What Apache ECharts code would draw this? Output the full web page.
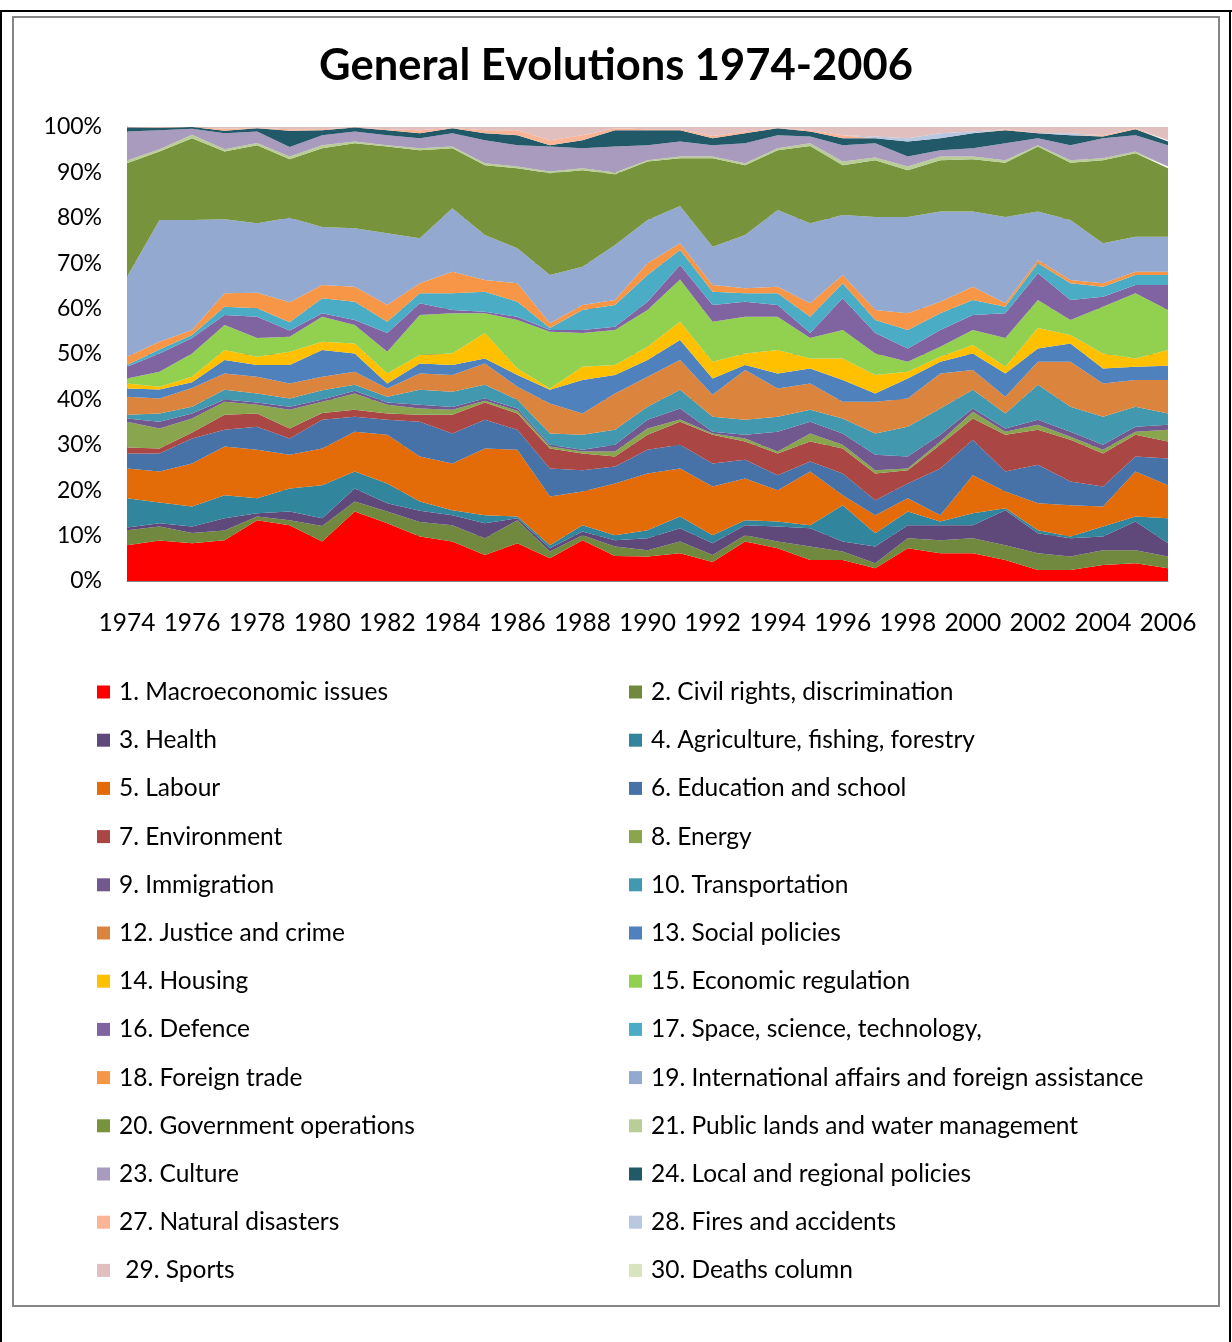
<!DOCTYPE html>
<html>
<head>
<meta charset="UTF-8">
<title>General Evolutions 1974-2006</title>
<script src="https://cdn.jsdelivr.net/npm/echarts@6/dist/echarts.min.js"></script>
<style>
  html, body { margin: 0; padding: 0; background: #fff; }
  #chart { width: 1232px; height: 1342px; }
</style>
</head>
<body>
<div id="chart"></div>
<script>
// years on the x axis
var years = ['1974','1975','1976','1977','1978','1979','1980','1981','1982','1983','1984','1985','1986','1987','1988','1989','1990',
             '1991','1992','1993','1994','1995','1996','1997','1998','1999','2000','2001','2002','2003','2004','2005','2006'];

var yTicks = [0, 10, 20, 30, 40, 50, 60, 70, 80, 90, 100];

// share of each topic per year (%), bottom of the stack first
var macroeconomic = [7.9,8.9,8.3,9.0,13.4,12.3,8.7,15.3,12.7,9.8,8.7,5.7,8.3,5.0,9.0,5.5,5.4,6.1,4.2,8.7,7.2,4.6,4.6,2.8,7.2,6.1,6.1,4.6,2.4,2.4,3.5,3.9,2.8];
var civilRights   = [3.3,3.1,2.3,2.1,0.8,1.1,3.4,2.2,2.6,3.2,3.6,3.7,5.1,1.5,1.1,2.1,1.4,2.6,1.5,1.4,1.5,3.0,1.9,1.1,2.2,2.9,3.3,3.3,3.7,3.0,3.3,2.9,2.6];
var health        = [0.6,0.7,1.4,2.7,0.7,1.9,1.7,2.9,1.8,2.5,2.2,3.3,0.4,0.7,0.8,1.4,2.6,2.9,2.6,2.2,3.3,4.0,2.2,3.7,2.9,3.3,2.9,7.7,4.4,4.0,3.0,6.3,2.9];
var agriculture   = [6.4,4.6,4.4,5.1,3.3,5.1,7.3,3.7,4.4,2.0,1.1,1.8,0.4,0.7,1.4,1.1,1.8,2.6,1.8,1.1,1.1,0.7,8.0,2.9,3.0,0.8,2.6,0.4,0.7,0.4,2.2,1.1,5.5];
var labour        = [6.6,6.8,9.5,10.7,10.7,7.4,8.1,8.8,10.7,9.9,10.3,14.7,14.7,10.7,7.4,11.4,12.5,10.6,10.7,9.2,6.9,11.8,2.2,4.0,2.9,1.4,8.4,3.7,5.9,6.9,4.4,9.9,7.3];
var education     = [3.3,4.0,5.5,3.7,5.1,3.6,6.3,3.3,3.3,7.7,6.6,6.3,4.4,6.2,4.7,3.7,5.2,5.2,5.1,4.1,3.3,2.2,4.8,3.3,3.3,10.3,7.8,4.4,8.5,5.2,4.4,3.3,5.9];
var environment   = [1.3,1.1,1.3,3.3,2.9,2.2,1.5,1.5,1.4,1.5,4.1,3.8,3.6,4.4,3.7,2.2,3.3,5.1,6.3,4.0,4.8,4.4,5.5,5.9,2.9,5.2,4.7,8.1,7.7,9.2,7.3,4.8,3.7];
var energy        = [5.7,4.4,3.1,2.9,1.9,4.1,2.5,3.6,1.9,1.4,1.1,0.4,0.6,0.4,0.4,1.1,1.4,0.5,0.3,0.7,0.4,1.8,0.8,0.7,0.4,0.7,1.5,0.7,1.1,0.7,0.8,0.7,2.6];
var immigration   = [0.7,1.5,1.1,0.5,0.5,0.7,0.5,0.6,0.5,0.8,0.6,0.5,0.5,0.4,0.4,1.5,1.9,2.4,0.4,0.8,4.4,2.6,2.5,3.4,2.6,1.5,0.7,0.7,1.1,1.1,1.1,1.1,1.1];
var transport     = [0.8,1.8,1.5,2.1,2.0,1.8,2.0,1.3,1.3,3.3,3.4,3.0,1.9,2.5,3.3,3.3,2.9,4.1,3.3,3.3,3.3,2.6,3.3,4.7,6.6,5.8,4.1,3.3,7.7,5.5,6.2,4.4,2.5];
var justice       = [4.0,3.3,4.1,3.6,3.7,3.3,3.0,2.9,1.8,3.6,3.7,4.7,2.9,6.6,4.7,8.0,6.6,6.6,4.8,11.0,6.2,5.8,3.7,7.0,6.2,7.7,4.4,3.7,5.1,9.9,7.3,5.9,7.4];
var social        = [1.8,2.0,1.3,3.0,2.6,4.1,5.9,4.0,1.1,2.2,2.2,1.1,2.6,3.0,7.4,4.1,3.7,4.4,3.6,1.1,3.3,3.3,4.8,1.8,4.4,2.6,3.6,5.1,2.9,4.0,3.3,2.9,3.1];
var housing       = [1.1,0.6,1.2,2.2,1.8,2.9,1.8,2.2,2.2,1.9,2.5,5.6,1.4,0.3,2.9,2.2,2.9,4.0,3.7,2.5,5.2,2.2,4.7,4.1,1.5,1.1,1.9,1.5,4.5,1.9,3.3,1.8,3.5];
var econRegul     = [1.1,3.3,5.1,5.5,4.1,3.3,5.5,4.1,4.8,8.8,8.9,4.4,10.7,12.5,7.4,7.7,8.1,9.3,8.8,8.1,7.3,4.5,6.3,4.7,2.2,2.2,3.3,6.3,6.2,3.3,10.3,14.4,8.8];
var defence       = [2.6,4.0,3.4,2.2,4.7,1.4,0.8,1.1,4.1,2.6,0.7,0.3,0.7,0.4,0.7,0.7,1.8,3.2,3.7,3.3,2.6,1.1,7.0,4.5,2.9,3.7,3.3,5.5,5.9,4.4,2.2,1.8,5.5];
var science       = [0.4,0.9,0.7,1.8,1.9,1.8,3.3,4.0,2.5,2.2,3.7,4.4,3.3,0.4,4.4,4.8,5.9,3.3,2.9,1.9,2.6,3.6,3.3,2.9,4.1,3.7,3.3,1.4,2.2,3.7,2.2,2.2,2.2];
var foreignTrade  = [1.8,1.7,1.1,3.0,3.4,4.4,2.9,3.3,3.7,2.2,4.7,2.6,4.1,1.1,1.1,1.1,2.6,1.5,1.5,1.1,1.4,3.0,1.8,2.2,3.7,2.5,2.9,0.8,0.7,0.7,0.8,0.7,0.7];
var international = [17.6,26.8,24.2,16.3,15.3,18.6,12.8,12.9,15.8,9.9,14.0,9.9,7.7,10.6,8.4,12.1,9.5,8.2,8.4,11.7,16.9,17.6,13.2,20.5,21.2,19.9,16.6,19.0,10.7,13.2,8.8,7.7,7.7];
var government    = [25.0,15.1,18.0,14.9,17.2,12.9,17.3,18.7,19.1,19.4,13.2,15.4,17.6,22.4,21.3,15.6,12.9,10.5,19.5,15.4,13.2,17.0,11.0,12.5,10.3,11.3,11.5,11.9,14.3,12.6,18.3,18.4,15.1];
var publicLands   = [0.6,0.5,0.8,0.5,0.5,0.6,0.7,0.4,0.3,0.4,0.4,0.4,0.4,0.4,0.4,0.4,0.3,0.4,0.4,0.4,0.4,0.6,0.8,0.6,0.8,0.8,0.6,0.6,0.3,0.6,0.4,0.4,0.4];
var culture       = [6.4,4.2,1.3,3.5,2.5,2.1,2.2,2.2,2.2,2.2,2.9,5.1,4.7,5.5,4.4,5.7,3.3,3.3,2.5,4.4,2.9,1.5,3.6,3.1,2.2,1.4,1.8,3.7,1.5,3.3,4.4,3.6,4.7];
var localRegional = [0.9,0.5,0.4,0.6,0.7,3.6,1.1,0.9,1.1,1.1,1.1,1.5,2.2,0.3,1.8,3.6,3.3,2.5,1.5,2.2,1.5,1.1,1.5,1.1,3.3,2.6,3.3,2.9,1.1,2.2,0.4,1.3,0.8];
var disasters     = [0.0,0.1,0.0,0.4,0.1,0.3,0.2,0.0,0.2,0.7,0.1,0.7,1.1,1.1,1.1,0.4,0.2,0.2,0.5,0.4,0.1,0.3,0.7,0.0,0.0,0.0,0.0,0.2,0.0,0.0,0.3,0.2,0.3];
var fires         = [0.0,0.0,0.0,0.0,0.0,0.0,0.0,0.0,0.0,0.0,0.0,0.0,0.0,0.0,0.0,0.0,0.0,0.0,0.0,0.0,0.0,0.0,0.0,0.4,0.7,1.1,0.4,0.0,0.0,0.4,0.0,0.0,0.0];
var sports        = [0.1,0.1,0.0,0.4,0.2,0.5,0.5,0.1,0.5,0.7,0.2,0.7,0.7,2.9,1.8,0.3,0.5,0.5,2.0,1.0,0.2,0.7,1.8,2.1,2.5,1.4,1.0,0.5,1.4,1.4,1.8,0.3,2.9];
var deaths        = [0.0,0.0,0.0,0.0,0.0,0.0,0.0,0.0,0.0,0.0,0.0,0.0,0.0,0.0,0.0,0.0,0.0,0.0,0.0,0.0,0.0,0.0,0.0,0.0,0.0,0.0,0.0,0.0,0.0,0.0,0.0,0.0,0.0];

var names = ['1. Macroeconomic issues','2. Civil rights, discrimination','3. Health','4. Agriculture, fishing, forestry',
  '5. Labour','6. Education and school','7. Environment','8. Energy','9. Immigration','10. Transportation',
  '12. Justice and crime','13. Social policies','14. Housing','15. Economic regulation','16. Defence',
  '17. Space, science, technology,','18. Foreign trade','19. International affairs and foreign assistance',
  '20. Government operations','21. Public lands and water management','23. Culture','24. Local and regional policies',
  '27. Natural disasters','28. Fires and accidents',' 29. Sports','30. Deaths column'];

var values = [macroeconomic, civilRights, health, agriculture, labour, education, environment, energy, immigration,
  transport, justice, social, housing, econRegul, defence, science, foreignTrade, international, government,
  publicLands, culture, localRegional, disasters, fires, sports, deaths];

var colors = ['#FF0000','#71893F','#5F497A','#31859C','#E36C09','#4672A8','#AA4643','#89A54E','#71588F','#4198AF',
  '#DB843D','#4F81BD','#FFC000','#92D050','#8064A2','#4BACC6','#F79646','#93A9CF','#77933C','#B9CD96',
  '#A99BBD','#215968','#FAB597','#B9C7E0','#E2BFBF','#D7E4BD'];

var font = 'Lato, "Open Sans", sans-serif';

var series = names.map(function (n, i) {
  return {
    name: n,
    type: 'line',
    stack: 'total',
    data: values[i],
    symbol: 'none',
    showSymbol: false,
    lineStyle: { width: 0 },
    areaStyle: { color: colors[i], opacity: 1 },
    itemStyle: { color: colors[i] },
    emphasis: { disabled: true },
    z: 2
  };
});

function legendFor(list, left) {
  return {
    orient: 'vertical',
    left: left,
    top: 679,
    padding: 0,
    icon: 'rect',
    itemWidth: 13,
    itemHeight: 13,
    itemGap: 22.2,
    selectedMode: false,
    data: list,
    textStyle: { fontFamily: font, fontSize: 24.5, color: '#000', lineHeight: 26, padding: [0, 0, 0, 4] }
  };
}

var leftNames = names.filter(function (n, i) { return i % 2 === 0; });
var rightNames = names.filter(function (n, i) { return i % 2 === 1; });

var myChart = echarts.init(document.getElementById('chart'), null, { renderer: 'canvas' });
var option = {
  backgroundColor: '#fff',
  animation: false,
  color: colors,
  title: {
    text: 'General Evolutions 1974-2006',
    left: 'center',
    top: 39,
    textStyle: { fontFamily: font, fontSize: 43.5, fontWeight: 'bold', color: '#000' }
  },
  legend: [legendFor(leftNames, 97), legendFor(rightNames, 629)],
  grid: { left: 127, top: 127, width: 1041, height: 454, containLabel: false },
  xAxis: {
    type: 'category',
    boundaryGap: false,
    data: years,
    axisLine: { lineStyle: { color: '#868686', width: 1 } },
    axisTick: { show: false },
    axisLabel: { interval: 1, margin: 30, fontFamily: font, fontSize: 24.5, color: '#000' },
    splitLine: { show: false }
  },
  yAxis: {
    type: 'value',
    min: yTicks[0],
    max: yTicks[yTicks.length - 1],
    interval: 10,
    axisLine: { show: true, lineStyle: { color: '#868686', width: 1 } },
    axisTick: { show: false },
    axisLabel: { margin: 25, fontFamily: font, fontSize: 23, color: '#000', formatter: '{value}%' },
    splitLine: { show: true, lineStyle: { color: '#868686', width: 1 } }
  },
  graphic: [
    { type: 'line', shape: { x1: 0, y1: 11, x2: 1232, y2: 11 }, style: { stroke: '#000', lineWidth: 2 } },
    { type: 'line', shape: { x1: 1, y1: 11, x2: 1, y2: 1342 }, style: { stroke: '#000', lineWidth: 2 } },
    { type: 'line', shape: { x1: 1230, y1: 11, x2: 1230, y2: 1342 }, style: { stroke: '#000', lineWidth: 2 } },
    { type: 'rect', shape: { x: 13, y: 17, width: 1206, height: 1289 }, style: { stroke: '#868686', fill: null, lineWidth: 2 } }
  ],
  series: series
};
myChart.setOption(option);
</script>
</body>
</html>
